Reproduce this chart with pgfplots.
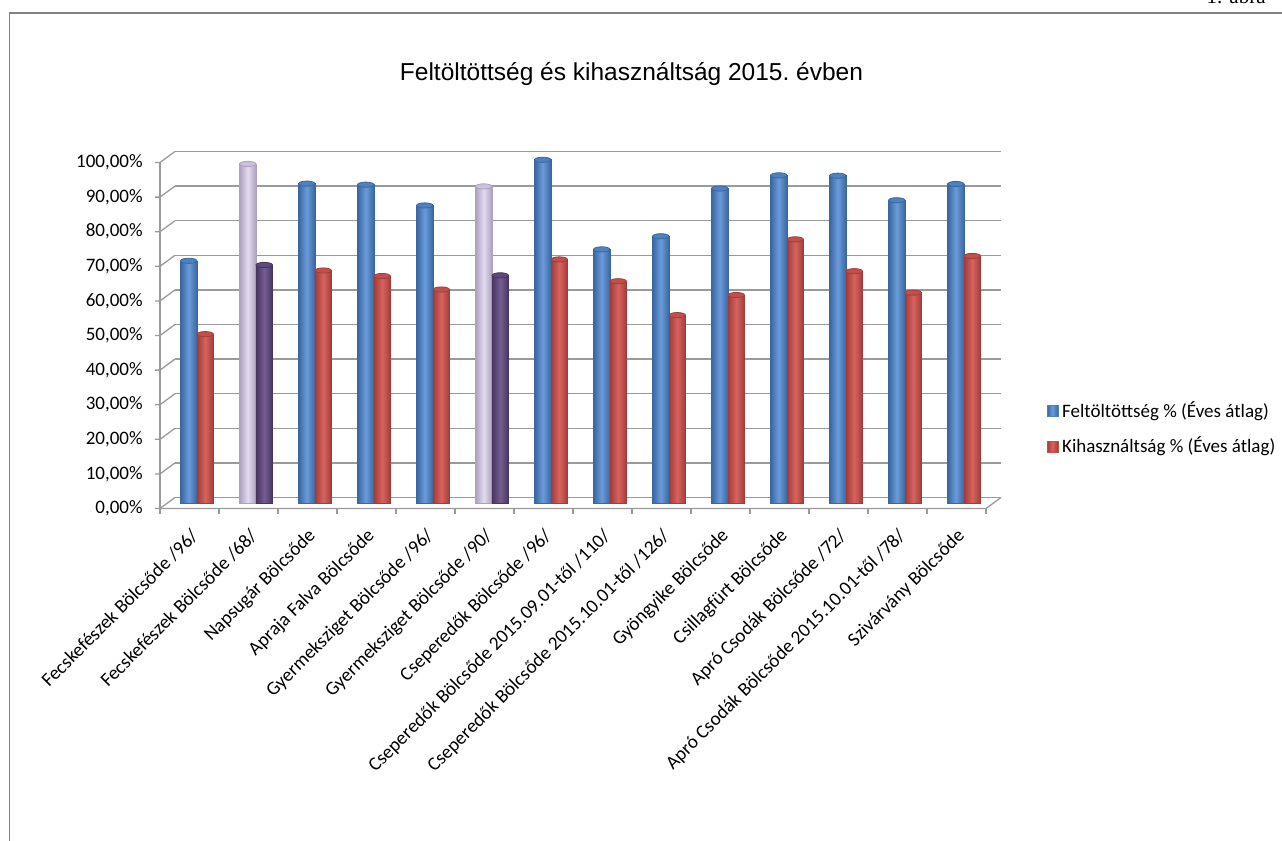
\documentclass[border=0pt]{standalone}
\usepackage{pgfplots}
\pgfplotsset{compat=1.18}
\usepackage{fontspec}
\setmainfont{Carlito}
\newfontfamily\titlefont{Liberation Sans}
\newfontfamily\serifont{Liberation Serif}
\definecolor{blueM}{HTML}{4F81BD}
\definecolor{blueD}{HTML}{3A679F}
\definecolor{blueL}{HTML}{6A9BDB}
\definecolor{redM}{HTML}{C0504D}
\definecolor{redD}{HTML}{A03D3A}
\definecolor{redL}{HTML}{D9625E}
\definecolor{lpM}{HTML}{CCC1DA}
\definecolor{lpD}{HTML}{ADA0C0}
\definecolor{lpL}{HTML}{E3DBEE}
\definecolor{dpM}{HTML}{5F497A}
\definecolor{dpD}{HTML}{47355E}
\definecolor{dpL}{HTML}{755D95}
\definecolor{gridc}{HTML}{9A9A9A}
\definecolor{framec}{HTML}{808080}
\pgfdeclareplotmark{cyltop}{\pgfpathellipse{\pgfpointorigin}{\pgfqpoint{4.1pt}{0pt}}{\pgfqpoint{0pt}{1.3pt}}\pgfusepathqfillstroke}
\tikzset{front/.style={xshift=-3.75pt,yshift=-2.75pt},back/.style={xshift=3.75pt,yshift=2.75pt}}
\pgfplotsset{
  cylbase/.style={ybar, bar width=8.25pt, line width=0.3pt, mark=cyltop},
  cA/.style={cylbase, bar shift=-4.125pt, draw=blueD, left color=blueD, right color=blueD, middle color=blueL,
     mark options={xshift=-4.125pt, fill=blueM, draw=blueD, line width=0.4pt}},
  cB/.style={cylbase, bar shift=4.125pt, draw=redD, left color=redD, right color=redD, middle color=redL,
     mark options={xshift=4.125pt, fill=redM, draw=redD, line width=0.4pt}},
  cC/.style={cylbase, bar shift=-4.125pt, draw=lpD, left color=lpD, right color=lpD, middle color=lpL,
     mark options={xshift=-4.125pt, fill=lpM, draw=lpD, line width=0.4pt}},
  cD/.style={cylbase, bar shift=4.125pt, draw=dpD, left color=dpD, right color=dpD, middle color=dpL,
     mark options={xshift=4.125pt, fill=dpM, draw=dpD, line width=0.4pt}},
}
\newcommand\cyl[3]{\addplot[#1, forget plot] coordinates {(#2,#3)};}
\begin{document}
\begin{tikzpicture}[x=0.5pt,y=-0.5pt]
\useasboundingbox (0,0) rectangle (1282,841);
\draw[framec, line width=0.75pt] (9.5,841) -- (9.5,13) -- (1282,13);
\node[font=\serifont\fontsize{10.5}{13}\selectfont, anchor=base east, inner sep=0pt] at (1266,3.5) {1. ábra};
\node[font=\titlefont\fontsize{12.25}{14}\selectfont, anchor=base] at (631.5,80) {Feltöltöttség és kihasználtság 2015.\ évben};
\coordinate (O) at (167.5,503);
\begin{axis}[
  at={(O)}, anchor=south west, scale only axis,
  width=413pt, height=173pt,
  xmin=0.5, xmax=14.5, ymin=0, ymax=100,
  clip=false,
  axis line style={draw=none}, tick style={draw=none},
  ytick={0,10,...,100},
  yticklabels={{0,00\%},{10,00\%},{20,00\%},{30,00\%},{40,00\%},{50,00\%},{60,00\%},{70,00\%},{80,00\%},{90,00\%},{100,00\%}},
  yticklabel style={font=\fontsize{9.5}{11}\selectfont, anchor=east, inner sep=0pt, xshift=-12.25pt, yshift=-2.75pt},
  xtick={1,...,14},
  xticklabels={{Fecskefészek Bölcsőde /96/},{Fecskefészek Bölcsőde /68/},{Napsugár Bölcsőde},{Apraja Falva Bölcsőde},{Gyermeksziget Bölcsőde /96/},{Gyermeksziget Bölcsőde /90/},{Cseperedők Bölcsőde /96/},{Cseperedők Bölcsőde 2015.09.01-től /110/},{Cseperedők Bölcsőde 2015.10.01-től /126/},{Gyöngyike Bölcsőde},{Csillagfürt Bölcsőde},{Apró Csodák Bölcsőde /72/},{Apró Csodák Bölcsőde 2015.10.01-től /78/},{Szivárvány Bölcsőde}},
  xticklabel style={font=\fontsize{9.6}{11}\selectfont, inner sep=0pt, xshift=-1pt, yshift=-15pt, rotate=45, anchor=east},
  legend style={draw=none, fill=none, at={(1.064,0.215)}, anchor=west, inner sep=0pt, row sep=4.5pt, font=\fontsize{9.5}{11}\selectfont},
  legend cell align=left,
]
\pgfplotsinvokeforeach{0,10,...,100}{
  \draw[gridc, line width=0.65pt] ([back]axis cs:0.5,#1) -- ([back]axis cs:14.5,#1);
  \draw[gridc, line width=0.65pt] ([xshift=-6.25pt,yshift=-2.75pt]axis cs:0.5,#1) -- ([front]axis cs:0.5,#1) -- ([back]axis cs:0.5,#1);
}
\draw[gridc, line width=0.65pt] ([front]axis cs:0.5,0) -- ([front]axis cs:0.5,100);
\draw[gridc, line width=0.65pt] ([front]axis cs:0.5,0) -- ([front]axis cs:14.5,0) -- ([back]axis cs:14.5,0);
\pgfplotsinvokeforeach{0.5,1.5,...,14.5}{
  \draw[gridc, line width=0.65pt] ([front]axis cs:#1,0) -- ([xshift=-3.75pt,yshift=-5.25pt]axis cs:#1,0);
}
% legend carriers (first blue and first red bars)
\addplot[cA, legend image code/.code={\fill[blueM] (0pt,-2.7pt) rectangle (5.4pt,2.7pt);}] coordinates {(1,70)};
\addlegendentry{Feltöltöttség \% (Éves átlag)}
\addplot[cB, legend image code/.code={\fill[redM] (0pt,-2.7pt) rectangle (5.4pt,2.7pt);}] coordinates {(1,48.8)};
\addlegendentry{Kihasználtság \% (Éves átlag)}
% Feltöltöttség
\cyl{cC}{2}{98}
\cyl{cA}{3}{92.3}
\cyl{cA}{4}{92}
\cyl{cA}{5}{86}
\cyl{cC}{6}{91.5}
\cyl{cA}{7}{99.2}
\cyl{cA}{8}{73.3}
\cyl{cA}{9}{77.1}
\cyl{cA}{10}{90.9}
\cyl{cA}{11}{94.7}
\cyl{cA}{12}{94.6}
\cyl{cA}{13}{87.5}
\cyl{cA}{14}{92.2}
% Kihasználtság
\cyl{cD}{2}{68.8}
\cyl{cB}{3}{67.2}
\cyl{cB}{4}{65.6}
\cyl{cB}{5}{61.7}
\cyl{cD}{6}{65.8}
\cyl{cB}{7}{70.4}
\cyl{cB}{8}{64.1}
\cyl{cB}{9}{54.3}
\cyl{cB}{10}{60.1}
\cyl{cB}{11}{76.2}
\cyl{cB}{12}{67}
\cyl{cB}{13}{60.8}
\cyl{cB}{14}{71.4}
\end{axis}
\end{tikzpicture}
\end{document}
